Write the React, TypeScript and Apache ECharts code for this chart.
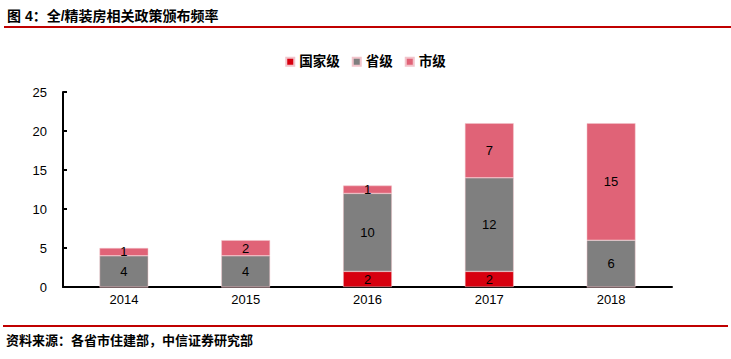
import React, { useEffect, useRef } from "react";
import * as echarts from "echarts";

const years = ["2014", "2015", "2016", "2017", "2018"];
const national = [0, 0, 2, 2, 0];
const provincial = [4, 4, 10, 12, 6];
const municipal = [1, 2, 1, 7, 15];
const seriesNames = ["国家级", "省级", "市级"];
const colors = ["#D7000F", "#7F7F7F", "#E06377"];
const titleText = "图 4：全/精装房相关政策颁布频率";
const sourceText = "资料来源：各省市住建部，中信证券研究部";

export default function App() {
  const ref = useRef<HTMLDivElement>(null);
  useEffect(() => {
    if (!ref.current) return;
    const chart = echarts.init(ref.current, null, { renderer: "svg" });
    const font = "Arial, 'Liberation Sans', 'Noto Sans CJK SC', sans-serif";
    const data = [national, provincial, municipal];
    chart.setOption({
      animation: false,
      textStyle: { fontFamily: font },
      graphic: [
        { type: "text", left: 7, top: 9, style: { text: titleText, font: `bold 14px ${font}`, fill: "#000" } },
        { type: "line", shape: { x1: 4, y1: 27, x2: 731, y2: 27 }, style: { stroke: "#C00000", lineWidth: 2 } },
        { type: "line", shape: { x1: 3, y1: 326, x2: 728, y2: 326 }, style: { stroke: "#C00000", lineWidth: 2 } },
        { type: "text", left: 6, top: 334, style: { text: sourceText, font: `bold 13px ${font}`, fill: "#000" } },
      ],
      legend: {
        top: 50,
        left: "center",
        itemWidth: 8,
        itemHeight: 8,
        itemGap: 12,
        icon: "rect",
        textStyle: { fontSize: 13.5, fontWeight: "bold", color: "#000", fontFamily: font },
        data: seriesNames,
      },
      grid: { left: 63, right: 59, top: 92, bottom: 72, containLabel: false },
      xAxis: {
        type: "category",
        data: years,
        axisLine: { lineStyle: { color: "#000", width: 2 } },
        axisTick: { show: false },
        axisLabel: { color: "#000", fontSize: 13, margin: 6 },
      },
      yAxis: {
        type: "value",
        min: 0,
        max: 25,
        interval: 5,
        splitLine: { show: false },
        axisLine: { show: true, lineStyle: { color: "#000", width: 2 } },
        axisTick: { show: true, inside: true, length: 4, lineStyle: { color: "#000", width: 2 } },
        axisLabel: { color: "#000", fontSize: 13, margin: 16 },
      },
      series: seriesNames.map((name, i) => ({
        name,
        type: "bar",
        stack: "total",
        barWidth: "40%",
        itemStyle: { color: colors[i], borderColor: "#F2C4CB", borderWidth: 0.5 },
        label: {
          show: true,
          position: "inside",
          color: "#000",
          fontSize: 13,
          formatter: (p: any) => (p.value ? String(p.value) : ""),
        },
        data: data[i],
      })),
    });
    return () => chart.dispose();
  }, []);
  return (
    <div
      ref={ref}
      style={{ position: "absolute", left: 0, top: 0, width: 731, height: 359 }}
    />
  );
}
